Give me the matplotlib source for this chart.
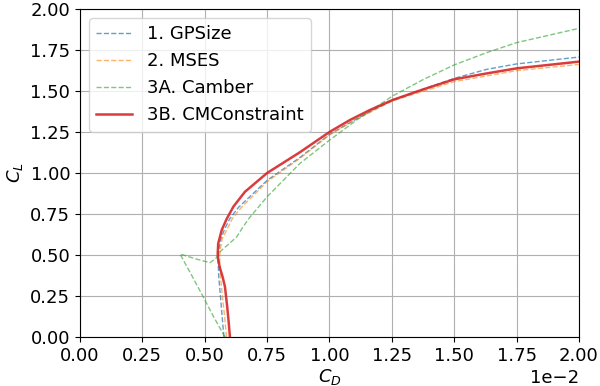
import matplotlib
matplotlib.use("Agg")
import matplotlib.pyplot as plt

# 1. GPSize
cd_gp = [0.00577, 0.0057, 0.00563, 0.00556, 0.00554, 0.00555, 0.00565, 0.00578, 0.006, 0.00635,
         0.0075, 0.00882, 0.01, 0.011, 0.01253, 0.015, 0.0163, 0.0175, 0.02]
cl_gp = [0.0, 0.12, 0.246, 0.37, 0.45, 0.52, 0.6, 0.652, 0.72, 0.79,
         0.955, 1.095, 1.235, 1.323, 1.445, 1.577, 1.632, 1.665, 1.707]
# 2. MSES
cd_ms = [0.00587, 0.0058, 0.00571, 0.00563, 0.0056, 0.00561, 0.0057, 0.00588, 0.0061, 0.00645,
         0.0075, 0.00882, 0.01, 0.01102, 0.01253, 0.015, 0.0175, 0.02]
cl_ms = [0.0, 0.12, 0.246, 0.37, 0.45, 0.52, 0.6, 0.652, 0.72, 0.787,
         0.947, 1.09, 1.232, 1.323, 1.44, 1.557, 1.624, 1.662]
# 3A. Camber
cd_ca = [0.00581, 0.00535, 0.00492, 0.00448, 0.00401, 0.0046, 0.00521, 0.00545, 0.00561, 0.00595,
         0.00628, 0.00655, 0.00681, 0.0075, 0.00882, 0.01, 0.01109, 0.01253, 0.01376, 0.015,
         0.0163, 0.0175, 0.02]
cl_ca = [0.0, 0.125, 0.25, 0.375, 0.506, 0.478, 0.453, 0.48, 0.52, 0.565,
         0.61, 0.675, 0.73, 0.855, 1.059, 1.2, 1.323, 1.47, 1.57, 1.659,
         1.734, 1.795, 1.882]
# 3B. CMConstraint
cd_cm = [0.00601, 0.00596, 0.0059, 0.00581, 0.00571, 0.00561, 0.00554, 0.00552, 0.00554, 0.00568,
         0.00588, 0.00615, 0.00641, 0.00661, 0.0075, 0.00882, 0.01, 0.01082, 0.01162, 0.01253,
         0.01376, 0.015, 0.0163, 0.0175, 0.02]
cl_cm = [0.0, 0.09, 0.185, 0.307, 0.37, 0.42, 0.47, 0.51, 0.57, 0.652,
         0.72, 0.795, 0.846, 0.885, 1.0, 1.127, 1.25, 1.323, 1.384, 1.445,
         1.51, 1.571, 1.607, 1.638, 1.679]

fig = plt.figure(figsize=(6, 3.86), dpi=100)
ax = fig.add_axes([0.1333, 0.127, 0.8317, 0.8497])
ax.plot(cd_gp, cl_gp, '--', color='#1f77b4', lw=1, alpha=0.7, label='1. GPSize')
ax.plot(cd_ms, cl_ms, '--', color='#ff7f0e', lw=1, alpha=0.6, label='2. MSES')
ax.plot(cd_ca, cl_ca, '--', color='#2ca02c', lw=1, alpha=0.6, label='3A. Camber')
ax.plot(cd_cm, cl_cm, '-', color='#d62728', lw=1.8, alpha=0.9, label='3B. CMConstraint')
ax.set_xlim(0, 0.02)
ax.set_ylim(0, 2.0)
ax.set_xticks([i * 0.0025 for i in range(9)])
ax.set_yticks([i * 0.25 for i in range(9)])
ax.ticklabel_format(axis='x', style='sci', scilimits=(-2, -2))
ax.grid(True, color='#b0b0b0', lw=0.8)
ax.tick_params(labelsize=13)
ax.xaxis.get_offset_text().set_fontsize(13)
ax.set_xlabel('$C_D$', fontsize=13, labelpad=2)
ax.set_ylabel('$C_L$', fontsize=13)
ax.legend(loc='upper left', fontsize=13)
fig.savefig('out.png', dpi=100)
